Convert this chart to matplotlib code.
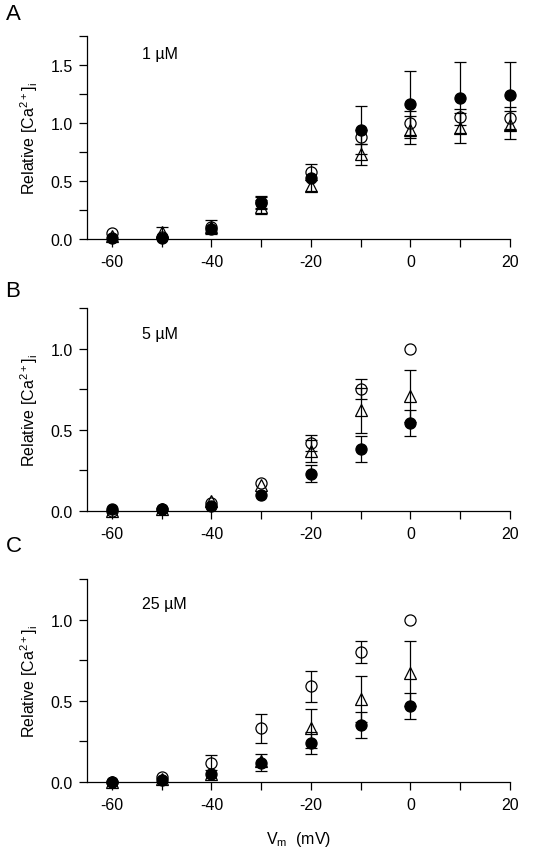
import numpy as np
import matplotlib
matplotlib.use("Agg")
import matplotlib.pyplot as plt
from matplotlib.ticker import MultipleLocator, FormatStrFormatter

plt.rcParams['font.family'] = ['Liberation Sans', 'DejaVu Sans']
plt.rcParams['mathtext.default'] = 'regular'
plt.rcParams['axes.unicode_minus'] = False

# membrane potential steps (mV)
vm = [-60, -50, -40, -30, -20, -10, 0, 10, 20]

# panel A, 1 uM
a_filled = [0.01, 0.01, 0.09, 0.31, 0.53, 0.94, 1.16, 1.22, 1.24]
a_filled_err = [0.0, 0.0, 0.0, 0.05, 0.0, 0.21, 0.29, 0.31, 0.29]
a_open = [0.05, 0.02, 0.10, 0.32, 0.58, 0.88, 1.00, 1.05, 1.04]
a_open_err = [0.0, 0.0, 0.06, 0.05, 0.07, 0.06, 0.10, 0.07, 0.10]
a_tri = [0.03, 0.06, 0.10, 0.28, 0.46, 0.73, 0.94, 0.96, 0.98]
a_tri_err = [0.0, 0.04, 0.0, 0.06, 0.05, 0.09, 0.12, 0.13, 0.12]

# panel B, 5 uM (data up to 0 mV)
b_filled = [0.01, 0.01, 0.03, 0.10, 0.23, 0.38, 0.54]
b_filled_err = [0.0, 0.0, 0.0, 0.0, 0.05, 0.08, 0.08]
b_open = [0.0, 0.01, 0.05, 0.17, 0.42, 0.75, 1.00]
b_open_err = [0.0, 0.0, 0.0, 0.0, 0.05, 0.06, 0.0]
b_tri = [0.0, 0.01, 0.06, 0.16, 0.37, 0.62, 0.71]
b_tri_err = [0.0, 0.0, 0.0, 0.0, 0.07, 0.14, 0.16]

# panel C, 25 uM
c_filled = [0.0, 0.01, 0.05, 0.12, 0.24, 0.35, 0.47]
c_filled_err = [0.0, 0.0, 0.0, 0.05, 0.07, 0.08, 0.08]
c_open = [0.0, 0.03, 0.12, 0.33, 0.59, 0.80, 1.00]
c_open_err = [0.0, 0.0, 0.045, 0.09, 0.095, 0.07, 0.0]
c_tri = [0.0, 0.02, 0.05, 0.13, 0.33, 0.51, 0.67]
c_tri_err = [0.0, 0.0, 0.0, 0.0, 0.12, 0.14, 0.20]

panels = [
    ("A", "1 µM", 1.75, 1.60, a_filled, a_filled_err, a_open, a_open_err, a_tri, a_tri_err),
    ("B", "5 µM", 1.25, 1.09, b_filled, b_filled_err, b_open, b_open_err, b_tri, b_tri_err),
    ("C", "25 µM", 1.25, 1.10, c_filled, c_filled_err, c_open, c_open_err, c_tri, c_tri_err),
]
bottoms = [0.7186, 0.3998, 0.082]
letter_y = [0.983, 0.658, 0.359]
FS = 11.5


def series(ax, x, y, err, marker, ms, face):
    x = np.asarray(x, float)
    y = np.asarray(y, float)
    err = np.asarray(err, float)
    m = err > 0
    if m.any():
        ax.errorbar(x[m], y[m], yerr=err[m], fmt="none", ecolor="black",
                    elinewidth=0.9, capsize=4.5, capthick=0.9, clip_on=False)
    ax.plot(x, y, linestyle="none", marker=marker, ms=ms, mfc=face,
            mec="black", mew=0.9, clip_on=False, zorder=3)


fig = plt.figure(figsize=(5.47, 8.53), dpi=100)
for k, (letter, conc, ymax, ty, fil, fil_e, opn, opn_e, tri, tri_e) in enumerate(panels):
    ax = fig.add_axes([0.159, bottoms[k], 0.7733, 0.238])
    x = vm[:len(fil)]
    series(ax, x, opn, opn_e, "o", 8, "none")
    series(ax, x, tri, tri_e, "^", 8.5, "none")
    series(ax, x, fil, fil_e, "o", 8, "black")

    ax.set_xlim(-65, 20)
    ax.set_ylim(0, ymax)
    ax.spines["top"].set_visible(False)
    ax.spines["right"].set_visible(False)
    for s in ("left", "bottom"):
        ax.spines[s].set_linewidth(0.9)
    ax.xaxis.set_major_locator(MultipleLocator(20))
    ax.xaxis.set_minor_locator(MultipleLocator(10))
    ax.yaxis.set_major_locator(MultipleLocator(0.5))
    ax.yaxis.set_minor_locator(MultipleLocator(0.25))
    ax.yaxis.set_major_formatter(FormatStrFormatter("%.1f"))
    ax.tick_params(which="both", direction="out", length=6, width=0.9, labelsize=FS)
    ax.tick_params(axis="x", pad=5)
    ax.tick_params(axis="y", pad=4)
    ax.set_ylabel("Relative [Ca$^{2+}$]$_{i}$", fontsize=FS, labelpad=8)
    ax.text(-54, ty, conc, fontsize=FS, ha="left", va="center")
    fig.text(0.01, letter_y[k], letter, fontsize=16, ha="left", va="center")
    if k == 2:
        ax.set_xlabel("V$_{m}$  (mV)", fontsize=FS, labelpad=12)

fig.savefig("out.png", dpi=100)
